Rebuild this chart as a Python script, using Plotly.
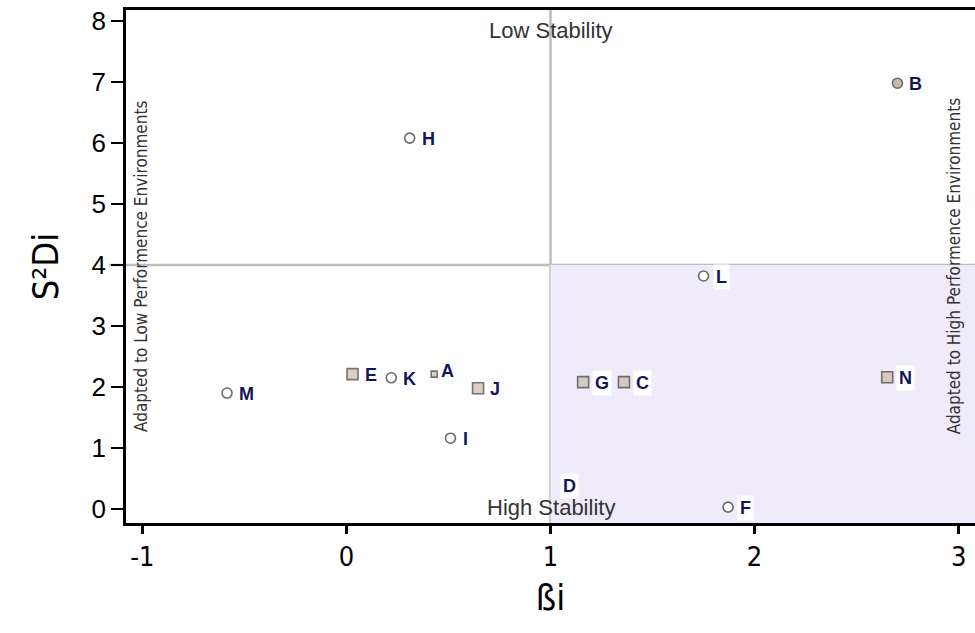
import plotly.graph_objects as go

# ---- data ----
genotypes = ["A", "B", "C", "D", "E", "F", "G", "H", "I", "J", "K", "L", "M", "N"]
beta_i    = [0.43, 2.70, 1.36, 1.00, 0.03, 1.87, 1.16, 0.31, 0.51, 0.645, 0.22, 1.75, -0.585, 2.65]
s2d_i     = [2.21, 6.98, 2.08, 0.40, 2.21, 0.03, 2.08, 6.08, 1.16, 1.98, 2.15, 3.82, 1.90, 2.16]
group     = ["sq", "fc", "sq", "hid", "sq", "oc", "sq", "oc", "oc", "sq", "oc", "oc", "oc", "sq"]

x_ticks = [-1, 0, 1, 2, 3]
y_ticks = [0, 1, 2, 3, 4, 5, 6, 7, 8]
beta_ref = 1
s2d_ref = 4

# ---- styles ----
boxed = {"C", "D", "F", "G", "L", "N"}
small = {"A"}
tan = "#CDBBA8"
label_color = "#14145A"
narrow = "Liberation Sans Narrow, DejaVu Sans Condensed, Arial"

fig = go.Figure()

# shaded quadrant (high performance, high stability)
fig.add_shape(type="rect", xref="x", yref="y", x0=beta_ref, x1=3.2, y0=-0.5, y1=s2d_ref,
              fillcolor="#EFEBFA", line_width=0, layer="below")
# reference lines
fig.add_shape(type="line", xref="x", yref="paper", x0=beta_ref, x1=beta_ref, y0=0, y1=1,
              line=dict(color="#BDBDBD", width=2.5), layer="below")
fig.add_shape(type="line", xref="paper", yref="y", x0=-0.02, x1=1, y0=s2d_ref, y1=s2d_ref,
              line=dict(color="#BDBDBD", width=2.5), layer="below")

def subset(kind):
    idx = [i for i, g in enumerate(group) if g == kind]
    return [beta_i[i] for i in idx], [s2d_i[i] for i in idx], [genotypes[i] for i in idx]

# hollow circles
x, y, t = subset("oc")
fig.add_trace(go.Scatter(x=x, y=y, mode="markers", text=t, showlegend=False,
                         marker=dict(symbol="circle", size=10, color="white",
                                     line=dict(color="#6A6A6A", width=1.6))))
# filled circle
x, y, t = subset("fc")
fig.add_trace(go.Scatter(x=x, y=y, mode="markers", text=t, showlegend=False,
                         marker=dict(symbol="circle", size=10, color=tan,
                                     line=dict(color="#6A6A6A", width=1.6))))
# squares
x, y, t = subset("sq")
sizes = [6 if g in small else 11 for g in t]
fig.add_trace(go.Scatter(x=x, y=y, mode="markers", text=t, showlegend=False,
                         marker=dict(symbol="square", size=sizes, color=tan,
                                     line=dict(color="#3A3A3A", width=1.6))))

# point labels
for g, bx, sy, kind in zip(genotypes, beta_i, s2d_i, group):
    fig.add_annotation(x=bx, y=sy, xref="x", yref="y", text="<b>%s</b>" % g,
                       showarrow=False, xanchor="left", yanchor="middle",
                       xshift=(4 if g in small else 9), yshift=(3 if g in small else -1),
                       font=dict(family="Arial, Liberation Sans", size=18, color=label_color),
                       bgcolor=("white" if g in boxed else "rgba(0,0,0,0)"), borderpad=2)

# region texts
fig.add_annotation(x=beta_ref, y=1, xref="x", yref="paper", yshift=-6, text="Low Stability",
                   showarrow=False, xanchor="center", yanchor="top",
                   font=dict(family="Arial, Liberation Sans", size=22, color="#333333"))
fig.add_annotation(x=beta_ref, y=0, xref="x", yref="y", text="High Stability",
                   showarrow=False, xanchor="center", yanchor="middle", yshift=1,
                   font=dict(family="Arial, Liberation Sans", size=22, color="#333333"))
fig.add_annotation(x=0.017, y=0.50, xref="paper", yref="paper",
                   text="Adapted to Low Performence Environments", textangle=-90,
                   showarrow=False, xanchor="center", yanchor="middle",
                   font=dict(family=narrow, size=17, color="#333333"))
fig.add_annotation(x=0.975, y=0.50, xref="paper", yref="paper",
                   text="Adapted to High Performence Environments", textangle=-90,
                   showarrow=False, xanchor="center", yanchor="middle",
                   font=dict(family=narrow, size=17, color="#333333"))

fig.update_layout(
    width=975, height=633,
    margin=dict(l=126, r=0, t=10, b=110, autoexpand=False),
    plot_bgcolor="white", paper_bgcolor="white",
    showlegend=False,
    xaxis=dict(range=[-1.08, 3.08], tickvals=x_ticks, ticktext=[str(v) for v in x_ticks],
               automargin=False, ticklabeloverflow="allow",
               showgrid=False, zeroline=False, showline=True, linecolor="black", linewidth=2.5,
               mirror=True, ticks="outside", ticklen=8, tickwidth=2.5, tickcolor="black",
               tickfont=dict(family=narrow, size=27, color="black"),
               title=dict(text="ßi", font=dict(family=narrow, size=36, color="black"), standoff=14)),
    yaxis=dict(range=[-0.23, 8.18], tickvals=y_ticks, ticktext=[str(v) for v in y_ticks],
               automargin=False, ticklabeloverflow="allow",
               showgrid=False, zeroline=False, showline=True, linecolor="black", linewidth=2.5,
               ticks="outside", ticklen=12, tickwidth=2, tickcolor="black",
               tickfont=dict(family="Arial, Liberation Sans", size=26, color="black"),
               title=dict(text="S²Di", font=dict(family=narrow, size=36, color="black"), standoff=22)),
)

# remove the browser's default 8px body margin so the figure fills the window
fig.write_html("out.html", config={"displayModeBar": False},
               post_script="document.body.style.margin='0px';")
